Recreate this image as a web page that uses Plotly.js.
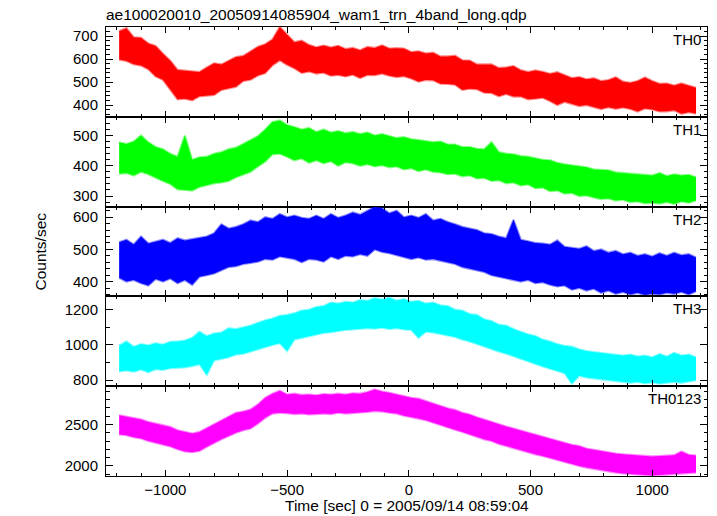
<!DOCTYPE html>
<html><head><meta charset="utf-8">
<script src="https://cdn.plot.ly/plotly-3.0.1.min.js"></script>
<style>html,body{margin:0;padding:0;background:#fff}#chart{width:717px;height:516px}</style>
</head><body><div id="chart"></div>
<script>
// time grid: start and step (sec)
const T_START = -1190, T_STEP = 30;

// upper / lower envelope of each light curve (counts/sec)
const TH0_HI = [722,735,695,693,668,657,623,593,553,550, 550,544,564,582,577,593,609,614,634,654, 665,686,740,705,674,680,662,652,659,651, 658,644,649,639,653,649,660,646,648,646, 631,634,625,628,612,612,615,595,594,577, 577,577,562,564,570,552,544,551,545,536, 543,529,518,522,512,517,505,509,521,502, 497,505,520,505,493,494,485,494,486,475];
const TH0_LO = [598,592,578,572,556,525,510,465,425,428, 421,438,441,444,466,474,480,505,510,529, 539,573,595,576,560,540,546,537,541,528, 531,525,532,518,531,530,537,528,522,526, 516,502,509,508,493,492,489,466,471,469, 454,453,438,448,437,437,425,428,432,418, 400,414,405,396,400,393,383,391,384,390, 383,372,385,381,372,373,377,362,369,363];

const TH1_HI = [478,472,480,500,478,462,455,440,430,500, 420,428,430,440,445,455,460,472,484,498, 520,545,550,535,528,520,525,512,520,510, 515,508,512,505,510,500,505,498,492,495, 488,485,482,478,480,470,470,462,462,456, 455,478,445,440,438,432,430,425,420,418, 410,405,402,398,395,388,386,385,378,376, 375,372,370,368,376,366,372,368,370,362];
const TH1_LO = [374,376,368,380,372,360,350,340,322,320, 318,330,336,342,345,350,362,372,380,398, 414,438,440,430,418,424,410,418,408,415, 400,412,408,400,405,398,402,395,398,388, 392,382,388,380,378,372,374,365,368,358, 360,350,352,342,345,335,338,326,328,316, 318,308,310,300,302,295,290,292,285,288, 280,282,276,278,275,280,274,282,278,285];

const TH2_HI = [522,530,515,540,518,525,530,520,535,528, 532,538,540,550,578,565,570,578,590,585, 600,595,610,600,605,598,595,605,595,610, 598,605,615,608,620,632,628,612,620,600, 605,598,610,590,595,585,578,570,565,560, 550,548,540,535,592,530,525,520,518,515, 528,508,505,502,510,495,500,490,495,485, 490,480,485,478,488,480,490,482,485,475];
const TH2_LO = [412,400,405,395,388,408,400,410,395,405, 390,415,420,425,435,445,448,455,458,462, 470,468,478,475,470,460,470,468,462,478, 470,480,478,485,480,500,492,488,482,478, 470,475,468,470,465,458,455,445,440,435, 430,420,415,410,405,400,405,395,398,390, 385,388,375,380,372,378,365,372,362,368, 360,365,358,362,360,365,362,368,360,370];

const TH3_HI = [995,1020,990,1005,998,1010,1002,1018,1020,1025, 1040,1075,1050,1065,1070,1095,1090,1100,1110,1125, 1140,1150,1165,1170,1180,1195,1200,1215,1220,1240, 1235,1245,1240,1255,1250,1265,1258,1268,1252,1260, 1245,1250,1235,1240,1225,1220,1200,1195,1175,1170, 1145,1135,1115,1110,1090,1075,1060,1050,1030,1020, 1005,995,990,975,965,960,955,950,945,940, 945,935,940,930,948,935,955,940,945,930];
const TH3_LO = [850,855,848,860,845,862,858,868,870,872, 880,890,830,912,920,930,945,950,962,975, 990,1000,1010,965,1030,1040,1050,1060,1068,1072, 1080,1085,1088,1090,1095,1092,1098,1090,1095,1088, 1085,1040,1075,1070,1062,1050,1045,1030,1020,1005, 990,975,962,950,935,920,905,892,878,865, 852,840,780,825,815,810,805,800,795,790, 785,790,782,788,780,785,790,785,792,800];

const TH0123_HI = [2610,2595,2580,2560,2530,2510,2490,2470,2430,2410, 2390,2410,2455,2500,2555,2600,2640,2655,2680,2740, 2820,2870,2905,2860,2870,2855,2860,2850,2865,2860, 2870,2860,2875,2870,2890,2920,2895,2880,2860,2845, 2820,2810,2780,2755,2725,2695,2675,2640,2620,2585, 2560,2530,2500,2475,2450,2425,2400,2380,2350,2330, 2300,2275,2255,2240,2210,2195,2180,2160,2150,2140, 2135,2130,2120,2115,2120,2125,2130,2175,2135,2125];
const TH0123_LO = [2380,2370,2345,2330,2300,2280,2260,2235,2200,2175, 2165,2180,2230,2280,2320,2360,2400,2430,2450,2510, 2580,2630,2640,2635,2625,2630,2620,2625,2630,2625, 2640,2630,2635,2640,2650,2660,2655,2640,2630,2605, 2590,2570,2550,2520,2490,2465,2435,2410,2380,2350, 2320,2300,2265,2240,2215,2190,2160,2140,2120,2095, 2070,2045,2020,2000,1980,1965,1945,1930,1920,1910, 1905,1895,1890,1885,1890,1895,1900,1905,1910,1920];

const PANEL_NAMES = ['TH0','TH1','TH2','TH3','TH0123'];
const TITLE = 'ae100020010_20050914085904_wam1_trn_4band_long.qdp';
const X_TITLE = 'Time [sec] 0 = 2005/09/14 08:59:04';
const Y_TITLE = 'Counts/sec';

const T = TH0_HI.map((_, i) => T_START + T_STEP * i);

const panels = [
  {hi: TH0_HI, lo: TH0_LO, rgb: [255,0,0], range: [349,740], dtick: 100, minor: 20},
  {hi: TH1_HI, lo: TH1_LO, rgb: [0,255,0], range: [265,562], dtick: 100, minor: 20},
  {hi: TH2_HI, lo: TH2_LO, rgb: [0,0,255], range: [354,633], dtick: 100, minor: 20},
  {hi: TH3_HI, lo: TH3_LO, rgb: [0,255,255], range: [766,1275], dtick: 200, minor: 100},
  {hi: TH0123_HI, lo: TH0123_LO, rgb: [255,0,255], range: [1879,2960], dtick: 500, minor: 100}
];

const FONT = '"Liberation Sans", Arial, Helvetica, sans-serif';
const traces = [];
const layout = {
  width: 717, height: 516,
  margin: {l: 106, r: 10, t: 27, b: 40},
  paper_bgcolor: '#fff', plot_bgcolor: '#fff',
  showlegend: false,
  font: {family: FONT, size: 15, color: '#000'},
  title: {text: TITLE, x: 106/717, xref: 'container', xanchor: 'left', y: 1 - 15/516, yref: 'container', yanchor: 'middle', font: {family: FONT, size: 15.5, color: '#000'}},
  annotations: []
};

panels.forEach((p, k) => {
  const s = k === 0 ? '' : String(k + 1);
  const col = `rgb(${p.rgb.join(',')})`;
  const edge = `rgba(${p.rgb.join(',')},0.45)`;
  traces.push({x: T, y: p.lo, xaxis: 'x' + s, yaxis: 'y' + s, mode: 'lines', line: {color: edge, width: 2.2}, hoverinfo: 'skip'});
  traces.push({x: T, y: p.hi, xaxis: 'x' + s, yaxis: 'y' + s, mode: 'lines', line: {color: edge, width: 2.2}, fill: 'tonexty', fillcolor: col, hoverinfo: 'skip'});
  const top = 1 - 0.2 * k, bot = 0.8 - 0.2 * k;
  layout['xaxis' + s] = {
    domain: [0, 1], anchor: 'y' + s, range: [-1244, 1225],
    tick0: 0, dtick: 500, ticks: 'inside', ticklen: 6, tickwidth: 1, tickcolor: '#000',
    minor: {dtick: 100, ticks: 'inside', ticklen: 3, tickwidth: 1, tickcolor: '#000'},
    showline: true, linecolor: '#000', linewidth: 1, mirror: 'allticks',
    showgrid: false, zeroline: false, showticklabels: k === 4,
    tickfont: {family: FONT, size: 15, color: '#000'}
  };
  layout['yaxis' + s] = {
    domain: [bot, top], anchor: 'x' + s, range: p.range,
    tick0: 0, dtick: p.dtick, ticks: 'inside', ticklen: 7, tickwidth: 1, tickcolor: '#000',
    minor: {dtick: p.minor, ticks: 'inside', ticklen: 3.5, tickwidth: 1, tickcolor: '#000'},
    showline: true, linecolor: '#000', linewidth: 1, mirror: 'allticks',
    showgrid: false, zeroline: false,
    tickfont: {family: FONT, size: 15, color: '#000'}, ticklabelstandoff: 4
  };
  layout.annotations.push({text: PANEL_NAMES[k], xref: 'paper', yref: 'paper', x: 1, y: top, xanchor: 'right', yanchor: 'top', xshift: -4, yshift: -2, showarrow: false, font: {family: FONT, size: 15, color: '#000'}});
});

layout.annotations.push({text: X_TITLE, xref: 'paper', yref: 'paper', x: 0.5, y: (476 - 505) / 449, xanchor: 'center', yanchor: 'middle', showarrow: false, font: {family: FONT, size: 15.5, color: '#000'}});
layout.annotations.push({text: Y_TITLE, xref: 'paper', yref: 'paper', x: (40 - 106) / 601, y: 0.5, xanchor: 'center', yanchor: 'middle', textangle: -90, showarrow: false, font: {family: FONT, size: 15.5, color: '#000'}});

Plotly.newPlot('chart', traces, layout, {displayModeBar: false, staticPlot: true});
</script>
</body></html>
